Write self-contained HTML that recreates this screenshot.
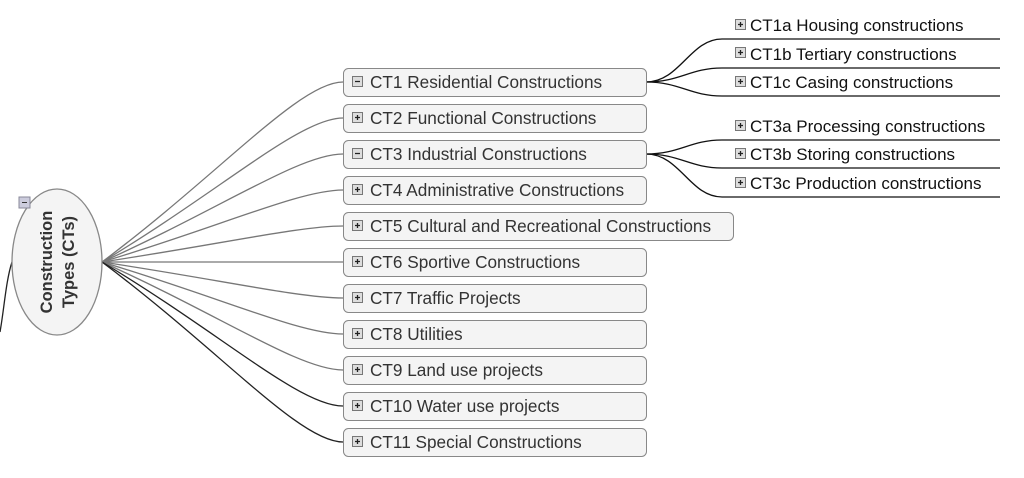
<!DOCTYPE html>
<html><head><meta charset="utf-8"><style>
html,body{margin:0;padding:0;background:#fff;}
svg{display:block;}
text{font-family:"Liberation Sans",Arial,sans-serif;}
</style></head><body>
<svg width="1024" height="478" viewBox="0 0 1024 478" xmlns="http://www.w3.org/2000/svg">
<g fill="none" stroke-width="1.3">
<path d="M102 262 C222 172 300 82 343 82" stroke="#777"/>
<path d="M102 262 C222 190 300 118 343 118" stroke="#777"/>
<path d="M102 262 C222 208 300 154 343 154" stroke="#777"/>
<path d="M102 262 C222 226 300 190 343 190" stroke="#777"/>
<path d="M102 262 C222 244 300 226 343 226" stroke="#777"/>
<path d="M102 262 L343 262" stroke="#777"/>
<path d="M102 262 C222 280 300 298 343 298" stroke="#777"/>
<path d="M102 262 C222 298 300 334 343 334" stroke="#777"/>
<path d="M102 262 C222 316 300 370 343 370" stroke="#777"/>
<path d="M102 262 C222 334 300 406 343 406" stroke="#222"/>
<path d="M102 262 C222 352 300 442 343 442" stroke="#222"/>
<path d="M12 262 C6 280 4 310 0 332" stroke="#222"/>
<g stroke="#111">
<path d="M646 82 C680 82 690 39 722 39 L1000 39"/>
<path d="M646 82 C680 82 690 68 722 68 L1000 68"/>
<path d="M646 82 C680 82 690 96 722 96 L1000 96"/>
<path d="M646 154 C680 154 690 140 722 140 L1000 140"/>
<path d="M646 154 C680 154 690 168 722 168 L1000 168"/>
<path d="M646 154 C680 154 690 197 722 197 L1000 197"/>
</g>
</g>
<ellipse cx="57" cy="262" rx="45" ry="73" fill="#f4f4f4" stroke="#888" stroke-width="1.3"/>
<rect x="19" y="197" width="11" height="11" fill="#ccd" stroke="#889"/>
<line x1="22" y1="202.5" x2="27" y2="202.5" stroke="#333"/>
<text transform="translate(52,262) rotate(-90)" text-anchor="middle" font-size="16.5" font-weight="bold" fill="#333">Construction</text>
<text transform="translate(74,262) rotate(-90)" text-anchor="middle" font-size="16.5" font-weight="bold" fill="#333">Types (CTs)</text>
<g font-size="17.2" fill="#333">
<rect x="343.5" y="68.5" width="303" height="28" rx="5" fill="#f4f4f4" stroke="#888"/>
<rect x="343.5" y="104.5" width="303" height="28" rx="5" fill="#f4f4f4" stroke="#888"/>
<rect x="343.5" y="140.5" width="303" height="28" rx="5" fill="#f4f4f4" stroke="#888"/>
<rect x="343.5" y="176.5" width="303" height="28" rx="5" fill="#f4f4f4" stroke="#888"/>
<rect x="343.5" y="212.5" width="390" height="28" rx="5" fill="#f4f4f4" stroke="#888"/>
<rect x="343.5" y="248.5" width="303" height="28" rx="5" fill="#f4f4f4" stroke="#888"/>
<rect x="343.5" y="284.5" width="303" height="28" rx="5" fill="#f4f4f4" stroke="#888"/>
<rect x="343.5" y="320.5" width="303" height="28" rx="5" fill="#f4f4f4" stroke="#888"/>
<rect x="343.5" y="356.5" width="303" height="28" rx="5" fill="#f4f4f4" stroke="#888"/>
<rect x="343.5" y="392.5" width="303" height="28" rx="5" fill="#f4f4f4" stroke="#888"/>
<rect x="343.5" y="428.5" width="303" height="28" rx="5" fill="#f4f4f4" stroke="#888"/>
<text x="370" y="88">CT1 Residential Constructions</text>
<text x="370" y="124">CT2 Functional Constructions</text>
<text x="370" y="160">CT3 Industrial Constructions</text>
<text x="370" y="196">CT4 Administrative Constructions</text>
<text x="370" y="232">CT5 Cultural and Recreational Constructions</text>
<text x="370" y="268">CT6 Sportive Constructions</text>
<text x="370" y="304">CT7 Traffic Projects</text>
<text x="370" y="340">CT8 Utilities</text>
<text x="370" y="376">CT9 Land use projects</text>
<text x="370" y="412">CT10 Water use projects</text>
<text x="370" y="448">CT11 Special Constructions</text>
<g fill="#111" font-size="17">
<text x="750" y="31">CT1a Housing constructions</text>
<text x="750" y="60">CT1b Tertiary constructions</text>
<text x="750" y="88">CT1c Casing constructions</text>
<text x="750" y="132">CT3a Processing constructions</text>
<text x="750" y="160">CT3b Storing constructions</text>
<text x="750" y="189">CT3c Production constructions</text>
</g>
</g>
<g stroke="#777" fill="#ddd">
<rect x="352.5" y="76.5" width="10" height="10"/>
<rect x="352.5" y="112.5" width="10" height="10"/>
<rect x="352.5" y="148.5" width="10" height="10"/>
<rect x="352.5" y="184.5" width="10" height="10"/>
<rect x="352.5" y="220.5" width="10" height="10"/>
<rect x="352.5" y="256.5" width="10" height="10"/>
<rect x="352.5" y="292.5" width="10" height="10"/>
<rect x="352.5" y="328.5" width="10" height="10"/>
<rect x="352.5" y="364.5" width="10" height="10"/>
<rect x="352.5" y="400.5" width="10" height="10"/>
<rect x="352.5" y="436.5" width="10" height="10"/>
<rect x="735.5" y="19.5" width="10" height="10"/>
<rect x="735.5" y="47.5" width="10" height="10"/>
<rect x="735.5" y="76.5" width="10" height="10"/>
<rect x="735.5" y="120.5" width="10" height="10"/>
<rect x="735.5" y="148.5" width="10" height="10"/>
<rect x="735.5" y="177.5" width="10" height="10"/>
</g>
<g stroke="#222" stroke-width="1.3">
<path d="M355 81.5h5M355 153.5h5"/>
<path d="M355 117.5h5M357.5 115v5 M355 189.5h5M357.5 187v5 M355 225.5h5M357.5 223v5 M355 261.5h5M357.5 259v5 M355 297.5h5M357.5 295v5 M355 333.5h5M357.5 331v5 M355 369.5h5M357.5 367v5 M355 405.5h5M357.5 403v5 M355 441.5h5M357.5 439v5"/>
<path d="M738 24.5h5M740.5 22v5 M738 52.5h5M740.5 50v5 M738 81.5h5M740.5 79v5 M738 125.5h5M740.5 123v5 M738 153.5h5M740.5 151v5 M738 182.5h5M740.5 180v5"/>
</g>
</svg>
</body></html>
